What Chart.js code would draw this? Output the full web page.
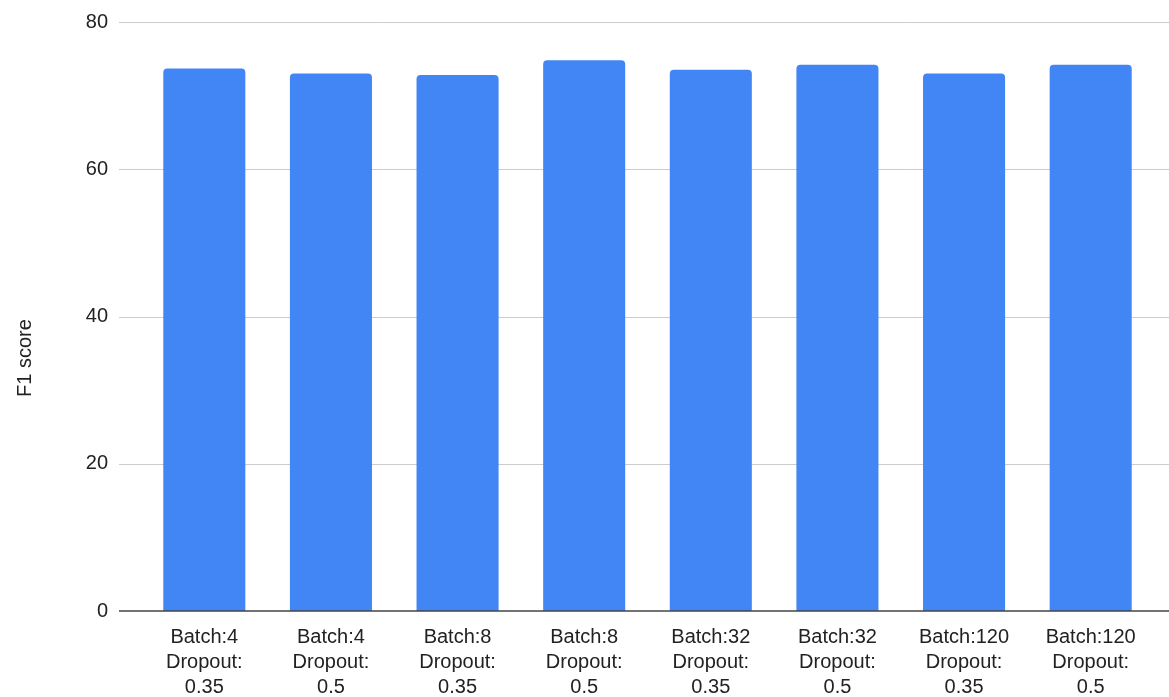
<!DOCTYPE html>
<html>
<head>
<meta charset="utf-8">
<script src="https://cdn.jsdelivr.net/npm/chart.js@4/dist/chart.umd.min.js"></script>
<style>
  html, body { margin: 0; padding: 0; background: #ffffff; }
  #wrap { width: 1169px; height: 697px; position: relative; }
</style>
</head>
<body>
<div id="wrap"><canvas id="chart"></canvas></div>
<script>
// Categories: batch size / dropout combinations
const batchLabels = ["Batch:4", "Batch:4", "Batch:8", "Batch:8", "Batch:32", "Batch:32", "Batch:120", "Batch:120"];
const dropoutLabels = ["0.35", "0.5", "0.35", "0.5", "0.35", "0.5", "0.35", "0.5"];

// F1 score per configuration
const f1Scores = [73.7, 73.0, 72.8, 74.8, 73.5, 74.2, 73.0, 74.2];

// Y axis ticks
const yTickMin = 0;
const yTickMax = 80;
const yTickStep = 20;

const FONT = "'Liberation Sans', Arial, sans-serif";
const TEXT_COLOR = "#222222";

const categories = batchLabels.map((b, i) => [b, "Dropout:", dropoutLabels[i]]);

// Horizontal gridlines and baseline that run past the category band on both sides
const gridPlugin = {
  id: "wideGrid",
  beforeDatasetsDraw(chart) {
    const { ctx, chartArea, scales } = chart;
    const x0 = chartArea.left - 22;
    const x1 = chart.width;
    ctx.save();
    ctx.strokeStyle = "#cccccc";
    ctx.lineWidth = 1;
    scales.y.ticks.forEach(t => {
      if (t.value === 0) return;
      const y = Math.round(scales.y.getPixelForValue(t.value)) + 0.5;
      ctx.beginPath();
      ctx.moveTo(x0, y);
      ctx.lineTo(x1, y);
      ctx.stroke();
    });
    ctx.restore();
  },
  afterDatasetsDraw(chart) {
    const { ctx, chartArea, scales } = chart;
    const y = scales.y.getPixelForValue(0);
    ctx.save();
    ctx.strokeStyle = "#444444";
    ctx.lineWidth = 1.6;
    ctx.beginPath();
    ctx.moveTo(chartArea.left - 22, y);
    ctx.lineTo(chart.width, y);
    ctx.stroke();
    // axis title
    ctx.translate(25, 358);
    ctx.rotate(-Math.PI / 2);
    ctx.fillStyle = TEXT_COLOR;
    ctx.font = "20px " + FONT;
    ctx.textAlign = "center";
    ctx.textBaseline = "middle";
    ctx.fillText("F1 score", 0, 0);
    ctx.restore();
  }
};

new Chart(document.getElementById("chart"), {
  type: "bar",
  data: {
    labels: categories,
    datasets: [{
      label: "F1 score",
      data: f1Scores,
      backgroundColor: "#4285f4",
      borderRadius: { topLeft: 4, topRight: 4, bottomLeft: 0, bottomRight: 0 },
      borderSkipped: "bottom",
      categoryPercentage: 1.0,
      barPercentage: 0.648
    }]
  },
  options: {
    responsive: true,
    maintainAspectRatio: false,
    animation: false,
    devicePixelRatio: 1,
    layout: { padding: { top: 22, right: 15, left: 0, bottom: 0 } },
    plugins: {
      legend: { display: false },
      tooltip: { enabled: false }
    },
    scales: {
      x: {
        grid: { display: false, drawTicks: false },
        border: { display: false },
        ticks: {
          color: TEXT_COLOR,
          font: { family: FONT, size: 20, lineHeight: 1.24 },
          padding: 14,
          maxRotation: 0,
          autoSkip: false
        },
        afterFit(scale) {
          scale.height = 86;
          scale.paddingTop = 0;
          scale.paddingBottom = 0;
        }
      },
      y: {
        min: yTickMin,
        max: yTickMax,
        grid: { display: false, drawTicks: false },
        border: { display: false },
        ticks: {
          stepSize: yTickStep,
          color: TEXT_COLOR,
          font: { family: FONT, size: 20 },
          padding: 33
        },
        afterFit(scale) {
          scale.width = 141;
          scale.paddingTop = 0;
          scale.paddingBottom = 0;
        }
      }
    }
  },
  plugins: [gridPlugin]
});
</script>
</body>
</html>
